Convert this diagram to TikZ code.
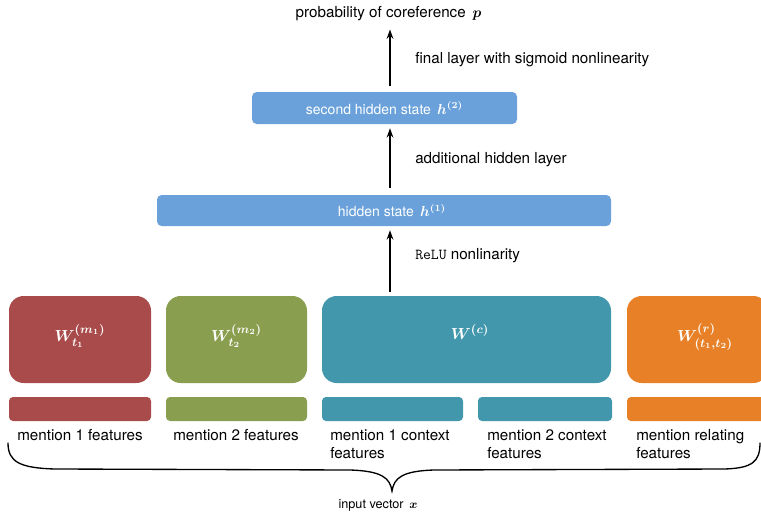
\documentclass[tikz,border=0pt]{standalone}
\usepackage{amsmath,bm}
\usepackage{fontspec}
\setmainfont{TeX Gyre Heros}
\usetikzlibrary{arrows.meta,calc}
\definecolor{cred}{HTML}{A84B4A}
\definecolor{cgreen}{HTML}{8A9E4F}
\definecolor{cteal}{HTML}{4297AC}
\definecolor{corange}{HTML}{E88027}
\definecolor{cblue}{HTML}{6AA1DA}
\begin{document}
\begin{tikzpicture}[x=0.75pt,y=-0.75pt,
  bigbox/.style={rounded corners=11pt, minimum height=65.25pt, inner sep=0pt},
  wlbl/.style={inner sep=0pt, text=white, font=\fontsize{13}{15}\selectfont\boldmath},
  bar/.style={rounded corners=3pt, minimum height=18pt, inner sep=0pt},
  hbox/.style={fill=cblue, rounded corners=3.5pt, inner sep=0pt, text=white, font=\fontsize{10.5}{13}\selectfont},
  lbl/.style={anchor=north west, inner sep=0pt, align=left, font=\fontsize{11.4}{13.5}\selectfont},
  side/.style={anchor=west, inner sep=0pt, font=\fontsize{11.4}{13}\selectfont},
  arr/.style={-{Stealth[length=7pt,width=5pt]}, line width=1.3pt}]
\useasboundingbox (0,0) rectangle (761,514);
\clip (0,0) rectangle (761,514);
\coordinate (ax) at (390,0);
% top title
\node[inner sep=0pt, font=\fontsize{11.4}{13}\selectfont] (title) at (388.5,14) {probability of coreference\, $\bm{p}$};
% hidden boxes
\node[hbox, minimum width=198.75pt, minimum height=24pt] (h2) at (384.5,108) {second hidden state\, $\bm{h}^{\bm{(2)}}$};
\node[hbox, minimum width=340.5pt, minimum height=23.25pt] (h1) at (384,210.5) {\hspace{12pt}hidden state\, $\bm{h}^{\bm{(1)}}$};
% big matrices
\node[bigbox, fill=cred, minimum width=106.5pt] (wm1) at (80,339.5) {};
\node[bigbox, fill=cgreen, minimum width=105.75pt] (wm2) at (236.5,339.5) {};
\node[bigbox, fill=cteal, minimum width=216.75pt] (wc) at (466.5,339.5) {};
\node[bigbox, fill=corange, minimum width=105.75pt] (wr) at (697.5,339.5) {};
\node[wlbl] (tm1) at (80,336) {$W^{(m_1)}_{t_1}$};
\node[wlbl] (tm2) at (236.5,336) {$W^{(m_2)}_{t_2}$};
\node[wlbl] (tc) at (470,332) {$W^{(c)}$};
\node[wlbl] (tr) at (705,337) {$W^{(r)}_{(t_1,t_2)}$};
% bars
\node[bar, fill=cred, minimum width=106.5pt] (b1) at (80,409) {};
\node[bar, fill=cgreen, minimum width=105.75pt] (b2) at (236.5,409) {};
\node[bar, fill=cteal, minimum width=105.75pt] (b3) at (392.5,409) {};
\node[bar, fill=cteal, minimum width=100.5pt] (b4) at (545,409) {};
\node[bar, fill=corange, minimum width=105.75pt] (b5) at (697.5,409) {};
% labels
\node[lbl] (l1) at (17,429) {mention 1 features};
\node[lbl] (l2) at (173,429) {mention 2 features};
\node[lbl] (l3) at (330,429) {mention 1 context\\features};
\node[lbl] (l4) at (487,429) {mention 2 context\\features};
\node[lbl] (l5) at (636,429) {mention relating\\features};
% arrows
\draw[arr, shorten <=4pt, shorten >=6pt] (h2.north -| ax) -- (title.south -| ax);
\draw[arr, shorten <=5pt, shorten >=3pt] (h1.north -| ax) -- (h2.south -| ax);
\draw[arr, shorten <=3pt, shorten >=3pt] (wc.north -| ax) -- (h1.south -| ax);
% side labels
\node[side] (s1) at (415,60) {final layer with sigmoid nonlinearity};
\node[side] (s2) at (415,160) {additional hidden layer};
\node[side] (s3) at (415,256) {\texttt{ReLU} nonlinarity};
% brace
\coordinate (btip) at (392,491);
\draw[line width=1pt, line cap=round] (8,443) .. controls (8,462) and (20,468) .. (55,469) -- (350,470) .. controls (382,471) and (390,478) .. (btip) .. controls (394,478) and (402,471) .. (434,470) -- (725,469) .. controls (752,468) and (760,462) .. (760,443);
\node[inner sep=0pt, font=\fontsize{9.5}{11}\selectfont] (iv) at (378,505) {input vector\, $\bm{x}$};
\end{tikzpicture}
\end{document}
